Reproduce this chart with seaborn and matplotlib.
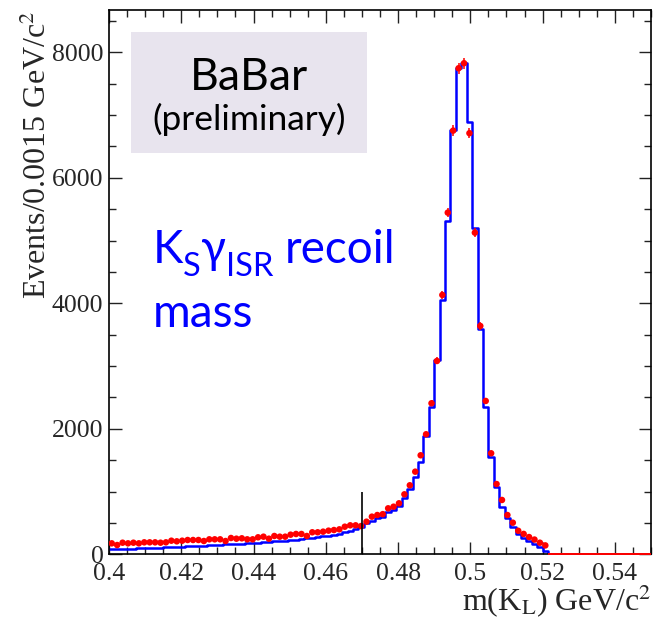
import numpy as np
import pandas as pd
import matplotlib
matplotlib.use("Agg")
import matplotlib.pyplot as plt
from matplotlib.patches import Rectangle
from matplotlib.ticker import MultipleLocator, FixedLocator, FixedFormatter
import seaborn as sns

# Histogram binning of the recoil mass (GeV/c^2)
bin_lo, bin_hi, bin_width = 0.40, 0.55, 0.0015

# Observed events per bin
data_counts = [
    175, 148, 185, 175, 185, 175, 191, 191, 191, 185,
    191, 217, 207, 217, 228, 228, 228, 212, 239, 239,
    239, 212, 260, 249, 255, 239, 239, 271, 281, 249,
    292, 281, 281, 313, 324, 324, 292, 351, 351, 361,
    377, 387, 398, 440, 462, 462, 450, 520, 600, 626,
    640, 733, 759, 813, 956, 1100, 1317, 1578, 1913, 2407,
    3081, 4133, 5445, 6752, 7746, 7826, 6711, 5126, 3639, 2444,
    1610, 1120, 866, 626, 504, 375, 325, 275, 235, 185,
    142, 0, 0, 0, 0, 0, 0, 0, 0, 0,
    0, 0, 0, 0, 0, 0, 0, 0, 0, 0,
]

# Simulated events per bin
mc_counts = [
    84, 86, 88, 90, 92, 95, 98, 100, 104, 108,
    112, 115, 118, 122, 127, 132, 137, 140, 145, 150,
    153, 157, 160, 164, 168, 173, 179, 185, 192, 199,
    206, 213, 220, 228, 236, 244, 253, 262, 271, 284,
    298, 314, 330, 350, 375, 403, 440, 494, 536, 574,
    600, 679, 706, 770, 893, 1036, 1237, 1476, 1886, 2353,
    3097, 4053, 5318, 6760, 7746, 7826, 6896, 5197, 3587, 2350,
    1546, 1068, 760, 574, 440, 330, 265, 215, 165, 115,
    60, 0, 0, 0, 0, 0, 0, 0, 0, 0,
    0, 0, 0, 0, 0, 0, 0, 0, 0, 0,
]

x_ticks = [0.40, 0.42, 0.44, 0.46, 0.48, 0.50, 0.52, 0.54]
x_tick_labels = ["0.4", "0.42", "0.44", "0.46", "0.48", "0.5", "0.52", "0.54"]
y_ticks = [0, 2000, 4000, 6000, 8000]
y_tick_labels = ["0", "2000", "4000", "6000", "8000"]

cut_position = 0.47
cut_height = 1000
y_top = 8674

n_bins = int(round((bin_hi - bin_lo) / bin_width))
edges = np.linspace(bin_lo, bin_hi, n_bins + 1)
centers = 0.5 * (edges[:-1] + edges[1:])
df = pd.DataFrame({"mass": centers, "data": data_counts, "mc": mc_counts})

sns.set_style("ticks")
plt.rcParams["font.family"] = ["Liberation Serif", "DejaVu Serif"]

W, H = 662, 625
fig = plt.figure(figsize=(W / 100, H / 100), dpi=100)
fig.patch.set_facecolor("white")
ax = fig.add_axes([0.1647, 0.1131, 0.8187, 0.8709])
ax.set_facecolor("white")

# Simulation as a step histogram
sns.histplot(data=df, x="mass", weights="mc", bins=edges.tolist(), element="step",
             fill=False, color="#0000ff", linewidth=1.8, ax=ax, zorder=2)

# Data points with statistical errors
nz = df[df["data"] > 0]
zero = df[df["data"] == 0]
ax.errorbar(nz["mass"], nz["data"], yerr=np.sqrt(nz["data"]),
            xerr=bin_width * 0.4, fmt="none", ecolor="#ff0000",
            elinewidth=1.1, zorder=3)
sns.scatterplot(data=nz, x="mass", y="data", color="#ff0000", s=22,
                edgecolor="none", linewidth=0, ax=ax, zorder=4)
# Empty data bins drawn on the baseline
ax.hlines(zero["data"], zero["mass"] - bin_width / 2, zero["mass"] + bin_width / 2,
          color="#ff0000", linewidth=1.4, zorder=4, clip_on=False)

# Selection cut marker
ax.vlines(cut_position, 0, cut_height, color="black", linewidth=1.2, zorder=5)

ax.set_xlim(bin_lo, bin_hi)
ax.set_ylim(0, y_top)

ax.xaxis.set_major_locator(FixedLocator(x_ticks))
ax.xaxis.set_major_formatter(FixedFormatter(x_tick_labels))
ax.xaxis.set_minor_locator(MultipleLocator(0.005))
ax.yaxis.set_major_locator(FixedLocator(y_ticks))
ax.yaxis.set_major_formatter(FixedFormatter(y_tick_labels))
ax.yaxis.set_minor_locator(MultipleLocator(500))

ax.tick_params(which="both", direction="in", top=True, right=True,
               color="#222222", width=1.0)
ax.tick_params(which="major", length=9, labelsize=18.5)
ax.tick_params(axis="x", which="major", pad=6)
ax.tick_params(axis="y", which="major", pad=4)
ax.tick_params(which="minor", length=4.8)
for s in ax.spines.values():
    s.set_visible(True)
    s.set_color("black")
    s.set_linewidth(1.2)

ax.set_xlabel(r"m(K$_{\mathrm{L}}$) GeV/c$^{2}$", fontsize=23, loc="right",
              math_fontfamily="stix")
ax.xaxis.set_label_coords(1.0, -0.052)
ax.set_ylabel(r"Events/0.0015 GeV/c$^{2}$", fontsize=23, loc="top",
              math_fontfamily="stix")
ax.yaxis.set_label_coords(-0.103, 1.0)

# Collaboration box
fig.add_artist(Rectangle((131 / W, 1 - 153 / H), 236 / W, 121 / H,
                         transform=fig.transFigure, facecolor="#e8e4ee",
                         edgecolor="none", zorder=6))
sans = ["Lato", "DejaVu Sans"]
fig.text(249 / W, 1 - 90 / H, "BaBar", fontsize=32, family=sans,
         ha="center", va="baseline", color="black", zorder=7)
fig.text(249 / W, 1 - 130 / H, "(preliminary)", fontsize=25.5, family=sans,
         ha="center", va="baseline", color="black", zorder=7)

# Annotation, written piece by piece so the subscripts sit low
renderer = fig.canvas.get_renderer()
main_size, sub_size, sub_drop = 33, 23.5, 13
pieces = [("K", main_size, 0, 0), ("S", sub_size, sub_drop, 0),
          ("γ", main_size, 0, 0), ("ISR", sub_size, sub_drop, 11),
          ("recoil", main_size, 0, 0)]
x_px, base_px = 153, 263
for txt, size, drop, gap in pieces:
    t = fig.text(x_px / W, 1 - (base_px + drop) / H, txt, fontsize=size,
                 family=sans, ha="left", va="baseline", color="#0000ff", zorder=7)
    x_px += t.get_window_extent(renderer).width + gap
fig.text(153 / W, 1 - 327 / H, "mass", fontsize=main_size, family=sans,
         ha="left", va="baseline", color="#0000ff", zorder=7)

fig.savefig("out.png", dpi=100)
